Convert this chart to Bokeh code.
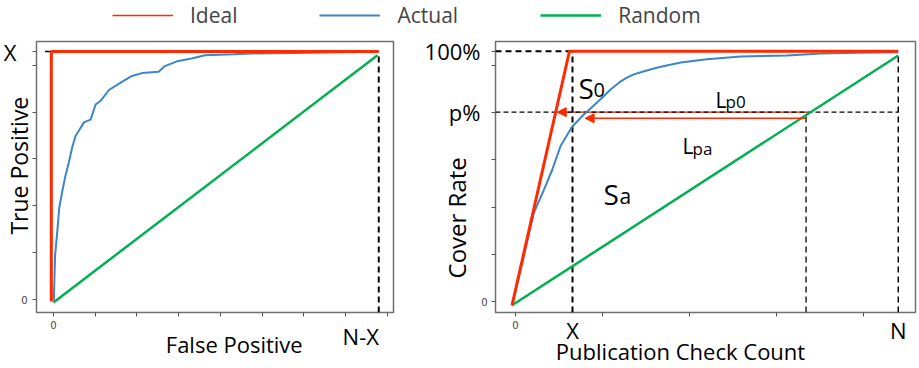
from bokeh.plotting import figure
from bokeh.models import (Label, Arrow, NormalHead, Legend, LegendItem, FixedTicker,
                          Range1d, CustomJSTickFormatter, LinearAxis)
from bokeh.layouts import column, row
from bokeh.embed import file_html
from bokeh.resources import INLINE

RED = "#ff2a00"
BLUE = "#3a86c8"
GREEN = "#00b050"
FRAME = "#707070"
FONT = "Open Sans"

# ---------------- data (in tick units) ----------------
legend_labels = ["Ideal", "Actual", "Random"]

# Left panel: True Positive vs False Positive
left_x_ticks = [0, 1, 2, 3, 4, 5, 6, 7, 8]
left_y_ticks = [0, 1, 2, 3, 4, 5, 5.29]
left_X = 5.29      # level labelled "X"
left_NX = 7.79     # position of the N-X line
left_ideal_x = [-0.05, -0.05, 7.79]
left_ideal_y = [-0.04, 5.29, 5.29]
left_actual_x = [0.01, 0.04, 0.10, 0.14, 0.21, 0.29, 0.37, 0.45, 0.53, 0.61, 0.73, 0.89,
                 1.01, 1.13, 1.33, 1.60, 1.88, 2.12, 2.52, 2.67, 2.99, 3.31, 3.63, 4.33,
                 4.74, 5.76, 7.79]
left_actual_y = [-0.02, 0.94, 1.53, 1.96, 2.30, 2.65, 2.93, 3.25, 3.49, 3.60, 3.78, 3.84,
                 4.16, 4.24, 4.47, 4.62, 4.77, 4.83, 4.86, 4.98, 5.09, 5.14, 5.21, 5.23,
                 5.25, 5.26, 5.29]
left_random_x = [0.0, 7.76]
left_random_y = [-0.06, 5.21]

# Right panel: Cover Rate vs Publication Check Count
right_x_ticks = [0, 1, 2, 3, 4]
right_y_ticks = [0, 1, 2, 3, 4, 5, 5.30]
right_full = 5.30   # "100%"
right_p = 4.01      # "p%"
right_X = 0.655     # "X"
right_N = 4.40      # "N"
right_cross = 3.34  # random line reaches p%
right_ideal_x = [-0.04, 0.62, 4.40]
right_ideal_y = [-0.08, 5.30, 5.30]
right_actual_x = [-0.04, 0.095, 0.21, 0.325, 0.42, 0.52, 0.65, 0.78, 0.94, 1.10, 1.20,
                  1.28, 1.36, 1.45, 1.56, 1.67, 1.90, 2.20, 2.59, 3.12, 3.51, 3.91, 4.40]
right_actual_y = [-0.08, 0.96, 1.87, 2.36, 2.78, 3.30, 3.70, 3.95, 4.22, 4.50, 4.65,
                  4.74, 4.81, 4.86, 4.92, 4.97, 5.06, 5.13, 5.19, 5.21, 5.25, 5.27, 5.28]
right_random_x = [-0.04, 4.40]
right_random_y = [-0.08, 5.21]
lp0_x = [3.36, 0.48]
lp0_y = 4.01
lpa_x = [3.33, 0.80]
lpa_y = 3.88

# outer text labels: (axis position, text)
left_y_big = ([left_X], ["X"])
left_y_title = ([2.857], ["True Positive"])
left_x_big = ([7.36], ["N-X"])
left_x_title = ([4.33], ["False Positive"])
right_y_big = ([right_p, right_full], ["p%", "100%"])
right_y_title = ([1.772], ["Cover Rate"])
right_x_big = ([right_X, right_N], ["X", "N"])
right_x_title = ([1.897], ["Publication Check Count"])

# ---------------- layout geometry (page pixels, page has no margin) ----------------
TOTAL_W = 919
LEG_H = 29
PLOT_H = 368 - LEG_H
LEFT_W = 412
RIGHT_W = TOTAL_W - LEFT_W


class Panel:
    def __init__(self, origin, width, frame, xr, yr):
        self.ox, self.oy = origin
        self.width = width
        self.l, self.t, self.r, self.b = frame
        self.xr, self.yr = xr, yr


left_pan = Panel((0, LEG_H), LEFT_W, (34, 41, 393, 316), (-0.405, 8.143), (-0.273, 5.504))
right_pan = Panel((LEFT_W, LEG_H), RIGHT_W, (495, 41, 915, 313), (-0.230, 4.598), (-0.232, 5.506))


def make_fig(pan, xticks, yticks, ystand):
    p = figure(width=pan.width, height=PLOT_H,
               x_range=Range1d(*pan.xr), y_range=Range1d(*pan.yr),
               output_backend="svg", toolbar_location=None, title=None,
               min_border_left=pan.l - pan.ox, min_border_top=pan.t - pan.oy,
               min_border_right=pan.ox + pan.width - pan.r,
               min_border_bottom=pan.oy + PLOT_H - pan.b)
    p.grid.visible = False
    p.outline_line_color = FRAME
    p.outline_line_width = 1.5
    p.background_fill_color = "white"
    p.border_fill_color = "white"
    p.xaxis.ticker = FixedTicker(ticks=xticks)
    p.yaxis.ticker = FixedTicker(ticks=yticks)
    fmt = CustomJSTickFormatter(code="return tick == 0 ? '0' : '';")
    for ax, st in ((p.xaxis[0], 4), (p.yaxis[0], ystand)):
        ax.formatter = fmt
        ax.axis_line_color = None
        ax.major_tick_line_color = "#555555"
        ax.major_tick_out = 4
        ax.major_tick_in = 0
        ax.minor_tick_line_color = None
        ax.major_label_text_font = "DejaVu Sans"
        ax.major_label_text_font_size = "10px"
        ax.major_label_text_color = "#444444"
        ax.major_label_standoff = st
    return p


def text_axis(p, side, spec, size, standoff, orientation="horizontal"):
    ticks, labels = spec
    ax = LinearAxis(ticker=FixedTicker(ticks=ticks),
                    formatter=CustomJSTickFormatter(
                        args=dict(vals=ticks, labels=labels),
                        code="const i = vals.indexOf(tick); return i < 0 ? '' : labels[i];"),
                    axis_line_color=None, major_tick_line_color=None,
                    minor_tick_line_color=None, major_tick_out=0, major_tick_in=0,
                    minor_tick_out=0, minor_tick_in=0,
                    major_label_text_font=FONT, major_label_text_font_size=f"{size}px",
                    major_label_text_color="black", major_label_standoff=standoff,
                    major_label_orientation=orientation)
    p.add_layout(ax, side)


def add_text(p, pan, px, py, text, size):
    """Text inside the plot area, placed by page pixel position of its baseline start."""
    p.add_layout(Label(x=px - pan.ox, y=py - pan.oy, x_units="canvas", y_units="canvas",
                       text=text, text_font=FONT, text_font_size=f"{size}px",
                       text_align="left", text_baseline="alphabetic", text_color="black"))


# ---------------- left panel ----------------
left = make_fig(left_pan, left_x_ticks, left_y_ticks, 5)
text_axis(left, "left", left_y_big, 22, 2)
text_axis(left, "left", left_y_title, 23, -35, "vertical")
text_axis(left, "below", left_x_big, 22, -11)
text_axis(left, "below", left_x_title, 22, -25)

left.segment(x0=[left_NX], y0=[left_pan.yr[0]], x1=[left_NX], y1=[left_random_y[-1]],
             line_color="black", line_width=2, line_dash="6 4")
left.segment(x0=[-0.2], y0=[left_X], x1=[left_ideal_x[0]], y1=[left_X],
             line_color="black", line_width=1.5, line_dash="7 4")
left.line(left_random_x, left_random_y, line_color=GREEN, line_width=2.5)
left.line(left_actual_x, left_actual_y, line_color=BLUE, line_width=2)
left.line(left_ideal_x, left_ideal_y, line_color=RED, line_width=3)

# ---------------- right panel ----------------
right = make_fig(right_pan, right_x_ticks, right_y_ticks, 4)
text_axis(right, "left", right_y_big, 22, -2)
text_axis(right, "left", right_y_title, 24, -52, "vertical")
text_axis(right, "below", right_x_big, 22, -17)
text_axis(right, "below", right_x_title, 22, -12)

right.segment(x0=[lp0_x[0]], y0=[lp0_y], x1=[lp0_x[1]], y1=[lp0_y],
              line_color=RED, line_width=1.2)
right.segment(x0=[right_pan.xr[0]], y0=[right_full], x1=[right_X], y1=[right_full],
              line_color="black", line_width=2, line_dash="6 4")
right.segment(x0=[right_X], y0=[right_pan.yr[0]], x1=[right_X], y1=[right_full],
              line_color="black", line_width=2, line_dash="6 4")
right.segment(x0=[right_pan.xr[0]], y0=[right_p], x1=[right_N], y1=[right_p],
              line_color="black", line_width=1.2, line_dash="5 3")
right.segment(x0=[right_cross], y0=[right_pan.yr[0]], x1=[right_cross], y1=[right_p],
              line_color="black", line_width=1.3, line_dash="6 4")
right.segment(x0=[right_N], y0=[right_pan.yr[0]], x1=[right_N], y1=[right_random_y[-1]],
              line_color="black", line_width=1.5, line_dash="6 4")
right.line(right_random_x, right_random_y, line_color=GREEN, line_width=2.5)
right.line(right_actual_x, right_actual_y, line_color=BLUE, line_width=2)
right.line(right_ideal_x, right_ideal_y, line_color=RED, line_width=3)

right.add_layout(Arrow(end=NormalHead(size=9, fill_color=RED, line_color=RED, line_width=1),
                       x_start=lp0_x[0], y_start=lp0_y, x_end=lp0_x[1], y_end=lp0_y,
                       line_alpha=0))
right.add_layout(Arrow(end=NormalHead(size=9, fill_color=RED, line_color=RED, line_width=1),
                       x_start=lpa_x[0], y_start=lpa_y, x_end=lpa_x[1], y_end=lpa_y,
                       line_color=RED, line_width=1.5))

add_text(right, right_pan, 578, 87, "S", 28)
add_text(right, right_pan, 593, 89, "0", 20)
add_text(right, right_pan, 715, 99, "L", 21)
add_text(right, right_pan, 725, 101, "p0", 17)
add_text(right, right_pan, 682, 145, "L", 21)
add_text(right, right_pan, 692, 148, "pa", 17)
add_text(right, right_pan, 603, 193, "S", 28)
add_text(right, right_pan, 619, 195, "a", 21)

# ---------------- legend strip ----------------
lg = figure(width=TOTAL_W, height=LEG_H, x_range=Range1d(100, 101), y_range=Range1d(100, 101),
            output_backend="svg", toolbar_location=None, title=None,
            x_axis_location=None, y_axis_location=None, min_border=0)
lg.outline_line_color = None
lg.grid.visible = False
r_ideal = lg.line(left_ideal_x, left_ideal_y, line_color=RED, line_width=1.5)
r_actual = lg.line(left_actual_x, left_actual_y, line_color=BLUE, line_width=2)
r_random = lg.line(left_random_x, left_random_y, line_color=GREEN, line_width=2.5)
legend = Legend(items=[LegendItem(label=legend_labels[0], renderers=[r_ideal]),
                       LegendItem(label=legend_labels[1], renderers=[r_actual]),
                       LegendItem(label=legend_labels[2], renderers=[r_random])],
                orientation="horizontal", location=(112, 0),
                glyph_width=61, glyph_height=20, label_height=20, label_standoff=17,
                spacing=82, padding=0, margin=0, border_line_color=None,
                background_fill_alpha=0, label_text_font=FONT,
                label_text_font_size="21px")
lg.add_layout(legend)

layout = column(lg, row(left, right))
open("out.html", "w").write(file_html(layout, INLINE))
